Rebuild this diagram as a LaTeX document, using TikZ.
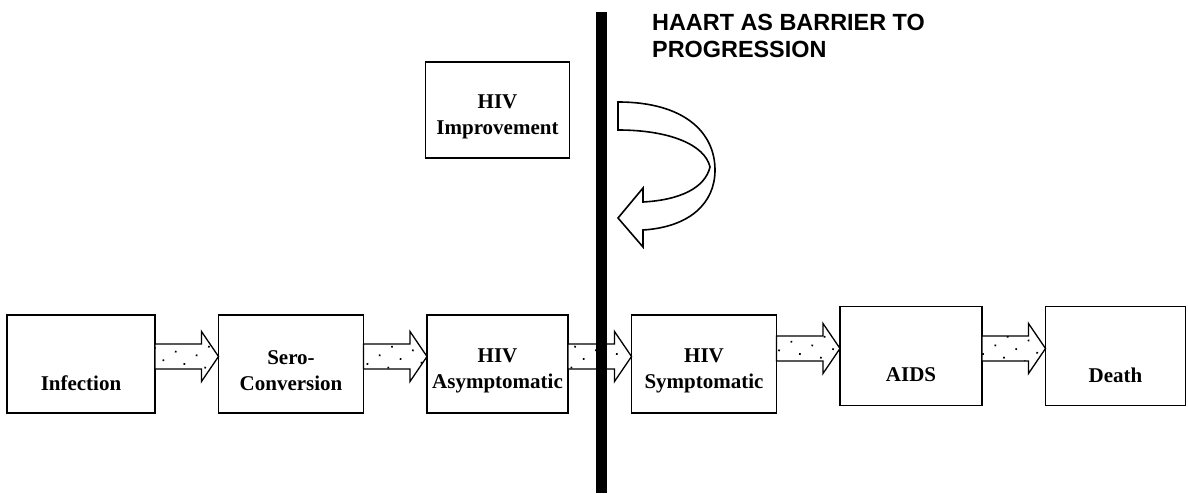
\documentclass[tikz,border=0pt]{standalone}
\usepackage{fontspec}
\setmainfont{Liberation Serif}
\newfontfamily\headfont{Liberation Sans}
\usepackage{tikz}
\usetikzlibrary{positioning, calc, patterns.meta}

\newcommand{\blockarrow}[2]{%
  \draw[blockarrow] let \p1=(#1.east), \p2=(#2.west) in
    (\x1,\y2+20pt) -- (\x2-17pt,\y2+20pt) -- (\x2-17pt,\y2+32.5pt) -- (\x2,\y2+7.5pt)
    -- (\x2-17pt,\y2-17.5pt) -- (\x2-17pt,\y2-5pt) -- (\x1,\y2-5pt) -- cycle;}

\begin{document}
\begin{tikzpicture}[
    x=1pt, y=1pt,
    node distance=63.5pt,
    stagebox/.style={draw, rectangle, line width=1.6pt, outer sep=0pt, minimum width=143pt, minimum height=98pt, inner sep=0pt},
    stagetext/.style={font=\fontsize{21}{26}\selectfont\bfseries, align=center, inner sep=0pt},
    blockarrow/.style={draw, line width=1.3pt, line join=miter, preaction={fill=white}, pattern={Dots[distance=15pt, angle=35, radius=1.2pt]}},
    bendarrow/.style={draw, line width=1.6pt, fill=white, line join=miter}
  ]
  \useasboundingbox (0,0) rectangle (1188,493);

  \node (infection) [stagebox, minimum width=148pt, label={[stagetext, yshift=-19pt]center:Infection}] at (81,129) {};
  \node (sero) [stagebox, minimum width=145pt, right=of infection, label={[stagetext, yshift=-7pt]center:{Sero-\\Conversion}}] {};
  \node (asym) [stagebox, minimum width=141pt, right=of sero, label={[stagetext, yshift=-7pt]center:{HIV\\Asymptomatic}}] {};
  \node (sympt) [stagebox, minimum width=145pt, right=of asym, label={[stagetext, yshift=-7pt]center:{HIV\\Symptomatic}}] {};
  \node (aids) [stagebox, minimum width=142pt, minimum height=99pt, right=of sympt, yshift=8pt, label={[stagetext, yshift=-19pt]center:AIDS}] {};
  \node (death) [stagebox, minimum width=140pt, minimum height=99pt, right=of aids, label={[stagetext, yshift=-19pt]center:Death}] {};

  \node (improve) [stagebox, minimum width=144pt, minimum height=96pt, above=157pt of asym, label={[stagetext, yshift=-7pt]center:{HIV\\Improvement}}] {};

  \blockarrow{infection}{sero}
  \blockarrow{sero}{asym}
  \blockarrow{asym}{sympt}
  \blockarrow{sympt}{aids}
  \blockarrow{aids}{death}

  \draw[bendarrow] (618,391) .. controls (685,391) and (715,360) .. (715,323)
    .. controls (715,290) and (690,266) .. (643,263) -- (643,246) -- (618,275)
    -- (643,305) -- (643,291) .. controls (680,293) and (705,305) .. (710,326)
    .. controls (705,348) and (670,363) .. (618,363) -- cycle;

  \fill (596,0) rectangle (607,481);

  \node (haart) [anchor=north west, align=left, inner sep=0pt, font=\headfont\bfseries\fontsize{23.4}{27}\selectfont] at (652,479) {HAART AS BARRIER TO\\PROGRESSION};

\end{tikzpicture}
\end{document}
